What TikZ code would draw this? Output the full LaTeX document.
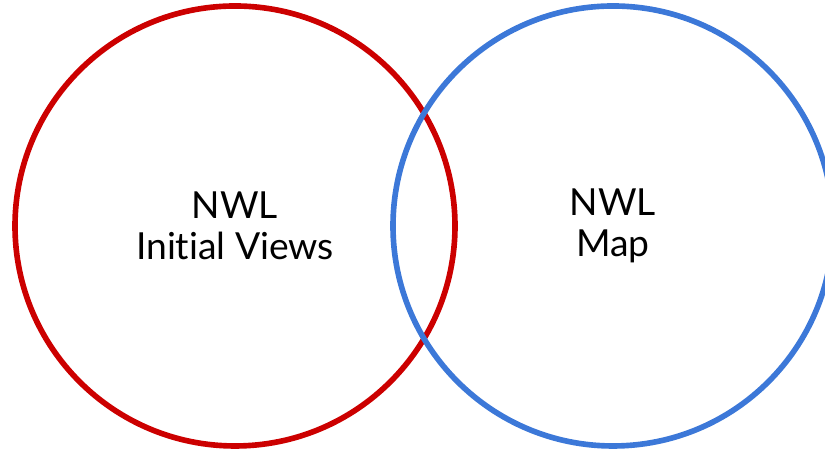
\documentclass[tikz,border=0pt]{standalone}
\usepackage{fontspec}
\setmainfont[Ligatures=NoCommon]{Lato}
\usetikzlibrary{calc}
\definecolor{nwlred}{HTML}{CC0000}
\definecolor{nwlblue}{HTML}{3C78D8}
\tikzset{label text/.style={align=center, font=\fontsize{26.5}{29}\selectfont, text=black}}

\begin{document}
\begin{tikzpicture}
		%%%%% START %%%%%
		\useasboundingbox (0, 0) rectangle (20.625, 11.3);
		
		\draw[line width=4pt, color=nwlred] (5.875, 5.65) circle (5.5);
		\draw[line width=4pt, color=nwlblue] (15.325, 5.65) circle (5.5);
		
		\node[label text] (views) at (5.875, 5.65) {NWL\\Initial Views};
		\node[label text] (map) at (15.325, 5.65) {NWL\\Map};
		
		%%%%% END %%%%%
	\end{tikzpicture}
\end{document}
